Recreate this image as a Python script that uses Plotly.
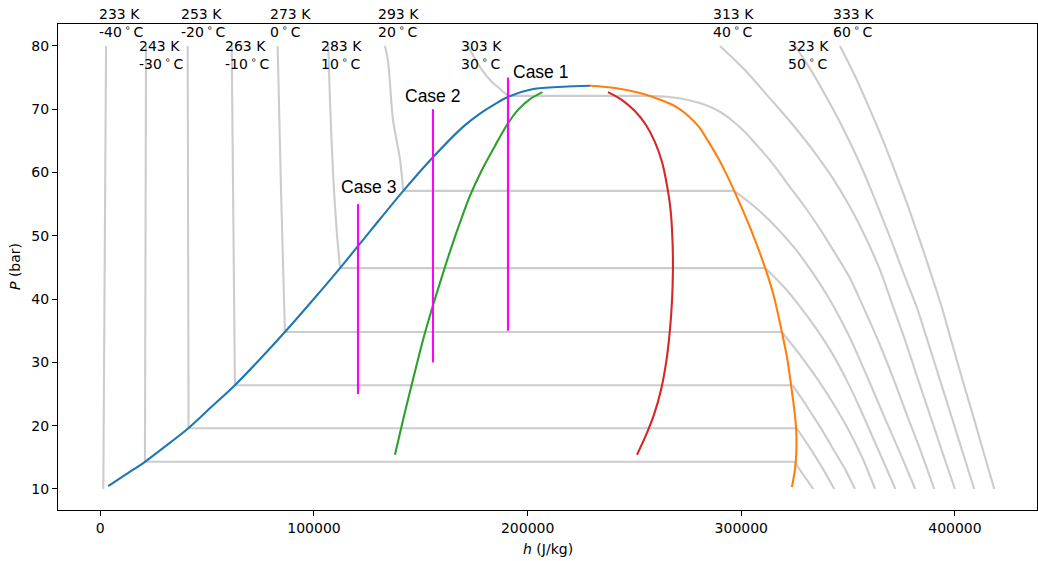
import plotly.graph_objects as go

# ---------------- data (h in J/kg, P in bar) ----------------
T_K = [233, 243, 253, 263, 273, 283, 293, 303, 313, 323, 333]

# liquid-side branches (top at P=80 down to saturation)
h_liq_233 = [2700, 1400]
p_liq_233 = [80.0, 10.0]
h_liq_243 = [21400, 20900]
p_liq_243 = [80.0, 14.3]
h_liq_253 = [40900, 41300]
p_liq_253 = [80.0, 19.6]
h_liq_263 = [61500, 63000]
p_liq_263 = [80.0, 26.4]
h_liq_273 = [83000, 84600, 86400]
p_liq_273 = [80.0, 57.0, 34.8]
h_liq_283 = [106700, 107500, 109100, 110800, 112200]
p_liq_283 = [80.0, 71.3, 58.8, 50.1, 44.9]
h_liq_293 = [133200, 134600, 137000, 140300, 141800]
p_liq_293 = [80.0, 77.8, 68.3, 62.0, 57.1]
h_liq_303 = [172100, 174900, 178600, 183300, 187100, 190800]
p_liq_303 = [80.0, 78.25, 76.2, 74.3, 73.2, 72.1]

# vapour-side branches (saturation down to P=10)
h_vap_243 = [324800, 329300, 333700]
p_vap_243 = [14.3, 12.1, 10.0]
h_vap_253 = [325900, 332100, 338000, 343500]
p_vap_253 = [19.6, 16.5, 13.3, 10.0]
h_vap_263 = [324000, 331200, 337800, 343800, 348800, 353200]
p_vap_263 = [26.4, 22.8, 19.3, 15.85, 13.0, 10.0]
h_vap_273 = [319000, 327900, 336000, 343400, 350400, 356700, 362600]
p_vap_273 = [34.8, 31.0, 27.2, 23.3, 19.2, 14.9, 10.0]
h_vap_283 = [311200, 320000, 327500, 334900, 342400, 349300, 355500, 361600, 367200, 372100]
p_vap_283 = [44.9, 41.9, 38.8, 35.4, 31.5, 27.2, 22.8, 18.1, 13.8, 10.0]
h_vap_293 = [296700, 306400, 316200, 325600, 333500, 340100, 345700, 350900, 355500,
             360200, 367200, 374300, 381400]
p_vap_293 = [57.1, 54.55, 51.4, 47.8, 44.1, 40.65, 37.3, 33.85, 30.4,
             26.75, 21.2, 15.7, 10.0]
h_vap_303 = [255900, 265200, 274600, 283000, 290000, 296100, 301700, 307300, 312500,
             317600, 322800, 329800, 336800, 343800, 350900, 356500, 364000, 371100,
             377500, 384100, 390300]
p_vap_303 = [72.1, 71.96, 71.5, 70.7, 69.6, 68.1, 66.4, 64.3, 62.3,
             60.1, 57.7, 54.55, 51.1, 47.3, 43.3, 39.2, 33.5, 27.5,
             21.7, 15.85, 10.0]

# supercritical isotherms
h_sc_313 = [290000, 301700, 312900, 323700, 333500, 342400, 350900, 358300, 364900,
            371100, 377100, 382800, 388800, 394400, 400000]
p_sc_313 = [80.0, 76.2, 71.9, 67.7, 63.55, 59.3, 54.55, 49.65, 44.6,
            38.75, 33.05, 27.2, 21.2, 15.5, 10.0]
h_sc_323 = [325100, 333100, 340600, 347600, 354100, 360200, 365800, 371500, 376600,
            382100, 387400, 393000, 398600, 403700, 409000]
p_sc_323 = [80.0, 75.9, 71.45, 67.0, 62.45, 57.7, 53.0, 48.1, 43.5,
            38.75, 33.2, 27.2, 21.2, 15.7, 10.0]
h_sc_333 = [346200, 353000, 359300, 365300, 370800, 376100, 381100, 385900, 390500,
            393800, 398600, 403300, 408000, 413100, 418400]
p_sc_333 = [80.0, 75.4, 70.65, 65.9, 61.2, 56.45, 51.7, 46.95, 42.2,
            38.75, 33.05, 27.5, 22.15, 16.15, 10.0]

# saturated liquid (blue) and saturated vapour (orange)
h_satliq = [3700, 12000, 20900, 30700, 41200, 51800, 63000, 74700, 86400, 99100,
            112200, 126700, 141800, 155800, 169900, 177700, 184700, 190900, 202600,
            216700, 229200]
p_satliq = [10.47, 12.3, 14.3, 16.8, 19.6, 22.9, 26.4, 30.5, 34.8, 39.7,
            44.9, 50.9, 57.1, 62.45, 67.25, 69.3, 70.8, 71.97, 73.2,
            73.55, 73.7]
h_satvap = [229200, 240900, 252600, 262400, 269900, 275500, 280200, 284400, 288900,
            292800, 296700, 304600, 311200, 315100, 319000, 321600, 323600,
            325100, 325800, 325700, 325100, 323700]
p_satvap = [73.7, 73.35, 72.55, 71.45, 70.3, 68.85, 67.2, 65.0, 62.45,
            59.9, 57.1, 50.9, 44.9, 40.65, 34.8, 30.4, 25.65,
            21.7, 18.5, 15.4, 13.0, 10.3]

# green and red curves
h_green = [137900, 142100, 146500, 151000, 155800, 162100, 167400, 173000, 178600,
           184700, 190300, 195500, 201100, 206900]
p_green = [15.4, 21.5, 27.5, 33.5, 39.1, 45.9, 51.2, 56.3, 60.4,
           64.2, 67.5, 69.9, 71.6, 72.7]
h_red = [237600, 244200, 250200, 255400, 259600, 262900, 265200, 266900, 267800,
         268000, 267600, 266600, 265000, 262400, 259100, 255400, 251200]
p_red = [72.7, 71.45, 69.7, 67.5, 64.8, 61.65, 58.0, 54.1, 49.3,
         44.6, 39.9, 35.1, 30.4, 25.6, 21.7, 18.5, 15.4]

# cases (vertical magenta lines)
case_names = ["Case 1", "Case 2", "Case 3"]
case_h = [190800, 155700, 120600]
case_p_low = [35, 30, 25]
case_p_high = [75, 70, 55]

x_ticks = [0, 100000, 200000, 300000, 400000]
y_ticks = [10, 20, 30, 40, 50, 60, 70, 80]

# ---------------- figure ----------------
GRAY = "#cccccc"
LW = 2.1
fig = go.Figure()


def add_line(h, p, color, shape="spline", width=LW):
    line = dict(color=color, width=width, shape=shape)
    if shape == "spline":
        line["smoothing"] = 0.8
    fig.add_trace(go.Scatter(x=h, y=p, mode="lines", line=line,
                             showlegend=False, hoverinfo="skip"))


liq = {233: (h_liq_233, p_liq_233), 243: (h_liq_243, p_liq_243), 253: (h_liq_253, p_liq_253),
       263: (h_liq_263, p_liq_263), 273: (h_liq_273, p_liq_273), 283: (h_liq_283, p_liq_283),
       293: (h_liq_293, p_liq_293), 303: (h_liq_303, p_liq_303)}
vap = {243: (h_vap_243, p_vap_243), 253: (h_vap_253, p_vap_253), 263: (h_vap_263, p_vap_263),
       273: (h_vap_273, p_vap_273), 283: (h_vap_283, p_vap_283), 293: (h_vap_293, p_vap_293),
       303: (h_vap_303, p_vap_303)}
sc = {313: (h_sc_313, p_sc_313), 323: (h_sc_323, p_sc_323), 333: (h_sc_333, p_sc_333)}

top_h = {}
for T in T_K:
    if T in liq:
        hl, pl = liq[T]
        add_line(hl, pl, GRAY)
        top_h[T] = hl[0]
        if T in vap:
            hv, pv = vap[T]
            add_line([hl[-1], hv[0]], [pl[-1], pv[0]], GRAY, shape="linear")
            add_line(hv, pv, GRAY)
    else:
        hs, ps = sc[T]
        add_line(hs, ps, GRAY)
        top_h[T] = hs[0]

add_line(h_satliq, p_satliq, "#1f77b4")
add_line(h_satvap, p_satvap, "#ff7f0e")
add_line(h_green, p_green, "#2ca02c")
add_line(h_red, p_red, "#d62728")

for i in range(len(case_h)):
    add_line([case_h[i], case_h[i]], [case_p_low[i], case_p_high[i]], "#ff00ff", shape="linear")

# plot-area geometry in pixels (for paper-referenced text)
PL, PR, PT, PB = 58, 1037, 24, 510
annotations = []
FONT = "DejaVu Sans"
for i, T in enumerate(T_K):
    c = T - 273
    row_px = 23.5 if i % 2 == 0 else 55.0
    annotations.append(dict(
        x=top_h[T] - 4300, y=(PB - row_px) / (PB - PT), xref="x", yref="paper",
        text=f"{T} K<br>{c}\u2009<sup>\u2218</sup>\u2009C",
        showarrow=False, xanchor="left", yanchor="middle", align="left",
        font=dict(family=FONT, size=14, color="#000")))

case_label_h = [192200, 141700, 111700]
case_label_p = [75.9, 72.1, 57.7]
for i, name in enumerate(case_names):
    annotations.append(dict(
        x=case_label_h[i], y=case_label_p[i], xref="x", yref="y", text=name,
        showarrow=False, xanchor="left", yanchor="middle",
        font=dict(family="Liberation Sans", size=17.5, color="#000")))

# axis titles
annotations.append(dict(x=(548 - PL) / (PR - PL), y=(PB - 549) / (PB - PT),
                        xref="paper", yref="paper",
                        text="<i>h</i> (J/kg)", showarrow=False, xanchor="center", yanchor="middle",
                        font=dict(family=FONT, size=14, color="#000")))
annotations.append(dict(x=(15 - PL) / (PR - PL), y=0.5, xref="paper", yref="paper",
                        text="<i>P</i> (bar)", showarrow=False, xanchor="center", yanchor="middle",
                        textangle=-90, font=dict(family=FONT, size=14, color="#000")))

axis_common = dict(showgrid=False, zeroline=False, showline=True, mirror=True,
                   linecolor="#000", linewidth=1.1, ticks="outside", ticklen=5,
                   tickwidth=1.1, tickcolor="#000",
                   tickfont=dict(family=FONT, size=14, color="#000"))

fig.update_layout(
    width=1038, height=561,
    margin=dict(l=PL, r=1038 - PR, t=PT, b=561 - PB, pad=0),
    paper_bgcolor="white", plot_bgcolor="white",
    xaxis=dict(range=[-19800, 438400], tickvals=x_ticks,
               ticktext=[str(v) for v in x_ticks], **axis_common),
    yaxis=dict(range=[6.68, 83.46], tickvals=y_ticks,
               ticktext=[str(v) for v in y_ticks], **axis_common),
    annotations=annotations,
    showlegend=False,
)

fig.write_html("out.html")
